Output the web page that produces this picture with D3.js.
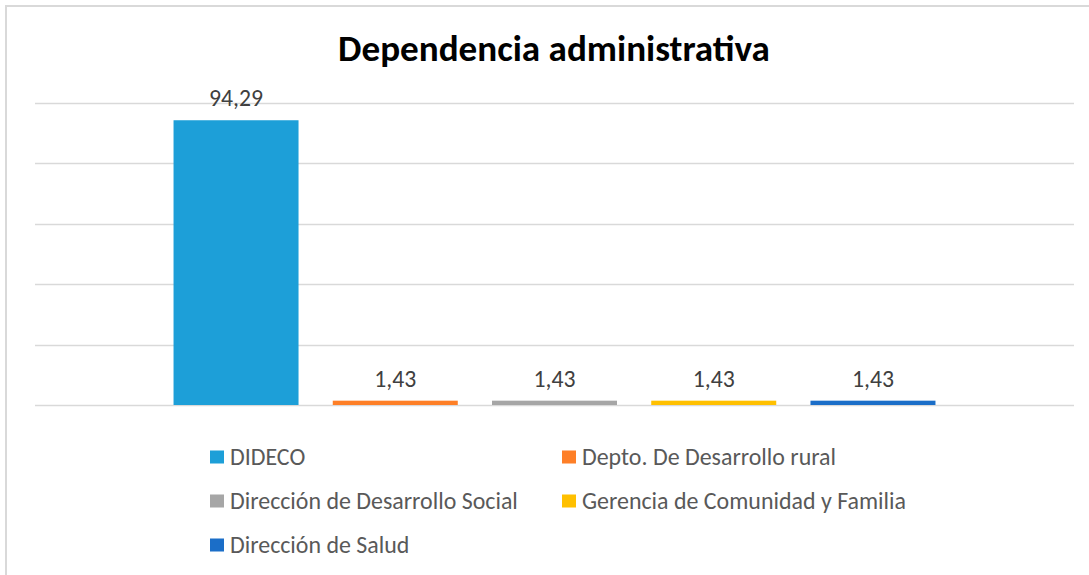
<!DOCTYPE html>
<html>
<head>
<meta charset="utf-8">
<script src="https://cdn.jsdelivr.net/npm/d3@7"></script>
<style>
  body { margin: 0; background: #fff; }
  svg { display: block; }
</style>
</head>
<body>
<svg id="chart" width="1089" height="575"></svg>
<script>
// data
const series = ["DIDECO", "Depto. De Desarrollo rural", "Dirección de Desarrollo Social", "Gerencia de Comunidad y Familia", "Dirección de Salud"];
const values = [94.29, 1.43, 1.43, 1.43, 1.43];
const colors = ["#1d9fd8", "#fe7f27", "#a6a6a6", "#ffc000", "#1b6ec8"];
const yTicks = [0, 20, 40, 60, 80, 100];
const title = "Dependencia administrativa";

const svg = d3.select("#chart");
const fontFam = "Carlito, Calibri, Lato, 'Open Sans', sans-serif";

// outer frame (only left + top visible)
svg.append("line").attr("x1", 6).attr("x2", 6).attr("y1", 5).attr("y2", 575)
  .attr("stroke", "#d9d9d9").attr("stroke-width", 2);
svg.append("line").attr("x1", 6).attr("x2", 1089).attr("y1", 6).attr("y2", 6)
  .attr("stroke", "#d9d9d9").attr("stroke-width", 2);

const plotL = 35, plotR = 1074, plotT = 103, plotB = 405;

let y = d3.scaleLinear().domain([0, 100]).range([plotB, plotT]);
let x = d3.scaleBand()
  .domain(series)
  .range([plotL, plotR])
  .paddingInner(0.215)
  .paddingOuter(0.87);

// gridlines
svg.append("g").selectAll("line")
  .data(yTicks)
  .enter().append("line")
  .attr("x1", plotL).attr("x2", plotR)
  .attr("y1", d => Math.round(y(d)) + 0.5)
  .attr("y2", d => Math.round(y(d)) + 0.5)
  .attr("stroke", "#d9d9d9")
  .attr("stroke-width", 1.6);

// bars
svg.append("g").selectAll(".bar")
  .data(values)
  .enter().append("rect")
  .attr("class", "bar")
  .attr("x", (d, i) => x(series[i]))
  .attr("y", d => y(d))
  .attr("width", x.bandwidth())
  .attr("height", d => plotB - y(d))
  .attr("fill", (d, i) => colors[i]);

// value labels with comma decimals
const loc = d3.formatLocale({decimal: ",", thousands: ".", grouping: [3], currency: ["", ""]});
const fmt = loc.format(".2f");
const vals = svg.append("g").selectAll("text")
  .data(values)
  .enter().append("text")
  .attr("x", (d, i) => x(series[i]) + x.bandwidth() / 2)
  .attr("y", d => y(d) - 14)
  .attr("text-anchor", "middle")
  .attr("font-family", fontFam)
  .attr("font-size", 20)
  .attr("fill", "#404040")
  .text(d => fmt(d));
// size so that "1,43" is about 42px wide like the reference
const vw = vals.nodes()[1].getComputedTextLength();
vals.attr("font-size", 20 * 42 / vw);

// title
const t = svg.append("text")
  .attr("x", 554).attr("y", 61)
  .attr("text-anchor", "middle")
  .attr("font-family", fontFam)
  .attr("font-weight", "bold")
  .attr("font-size", 31)
  .attr("fill", "#000")
  .text(title);
let tw = t.node().getComputedTextLength();
t.attr("font-size", 31 * 432 / tw);

// legend
const legPos = [[210, 457], [562, 457], [210, 501], [562, 501], [210, 545]];
const leg = svg.append("g").selectAll("g")
  .data(series)
  .enter().append("g")
  .attr("transform", (d, i) => "translate(" + legPos[i][0] + "," + legPos[i][1] + ")");
leg.append("rect")
  .attr("x", 0).attr("y", -6.5)
  .attr("width", 14).attr("height", 13)
  .attr("fill", (d, i) => colors[i]);
leg.append("text")
  .attr("x", 20).attr("y", 7.5)
  .attr("font-family", fontFam)
  .attr("font-size", 20)
  .attr("fill", "#595959")
  .text(d => d);

// fit legend text so "Dirección de Desarrollo Social" is ~288px wide
const legText = leg.selectAll("text");
const w0 = legText.nodes()[2].getComputedTextLength();
legText.attr("font-size", 20 * 288 / w0);
</script>
</body>
</html>
